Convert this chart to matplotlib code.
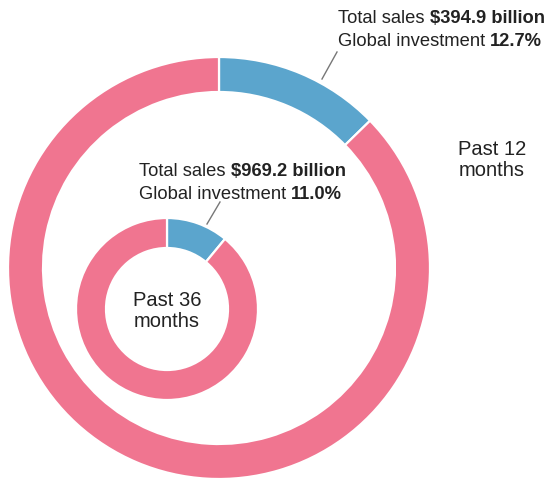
import matplotlib
matplotlib.use('Agg')
import matplotlib.pyplot as plt

# data
periods = ['Past 12\nmonths', 'Past 36\nmonths']
total_sales = ['$394.9 billion', '$969.2 billion']
global_investment = [12.7, 11.0]

pink = '#f07590'
blue = '#5ba5cd'
text_col = '#222222'

W, H = 552, 481
fig = plt.figure(figsize=(W / 100, H / 100), dpi=100)
ax = fig.add_axes([0, 0, 1, 1])

plt.rcParams['font.family'] = ['Liberation Sans', 'DejaVu Sans']
fs = 13.2

# ring geometry in pixel coords (y measured from the top)
rings = [
    dict(cx=219, cy=269, r=211, w=35),
    dict(cx=167, cy=310, r=91, w=30),
]

for ring, inv in zip(rings, global_investment):
    ax.pie([inv, 100 - inv], colors=[blue, pink], startangle=90, counterclock=False,
           center=(ring['cx'], H - ring['cy']), radius=ring['r'],
           wedgeprops=dict(width=ring['w'], edgecolor='white', linewidth=1.6))


def label(x, y, sales, inv):
    t1 = ax.text(x, H - y, 'Total sales ', fontsize=fs, color=text_col, va='bottom', ha='left')
    ax.annotate(sales, xy=(1, 0), xycoords=t1, fontsize=fs, fontweight='bold',
                color=text_col, va='bottom', ha='left')
    t2 = ax.text(x, H - y - 23, 'Global investment ', fontsize=fs, color=text_col,
                 va='bottom', ha='left')
    ax.annotate('%.1f%%' % inv, xy=(1, 0), xycoords=t2, fontsize=fs, fontweight='bold',
                color=text_col, va='bottom', ha='left')


label(338, 27, total_sales[0], global_investment[0])
label(139, 180, total_sales[1], global_investment[1])

# leader lines
ax.plot([322, 337], [H - 80, H - 53], color='#777777', lw=1)
ax.plot([207, 220], [H - 225, H - 203], color='#777777', lw=1)

ax.text(492, H - 160, periods[0], fontsize=14.5, color=text_col,
        ha='center', va='center', linespacing=1.15)
ax.text(167, H - 311, periods[1], fontsize=14.5, color=text_col,
        ha='center', va='center', linespacing=1.15)

ax.set_xlim(0, W)
ax.set_ylim(0, H)
ax.set_aspect('auto')
ax.axis('off')

fig.savefig('out.png', dpi=100, facecolor='white')
